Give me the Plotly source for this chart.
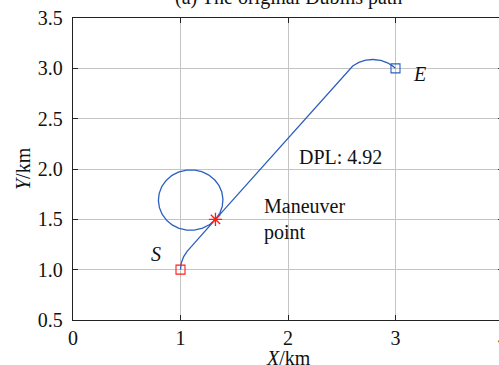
import numpy as np
import plotly.graph_objects as go

# Dubins path definition (km, degrees)
start_point = [1.0, 1.0]
start_heading = 90.0
end_point = [3.0, 3.0]
end_heading = -45.0
turn_radius = 0.3
loop_offset = 0.40          # distance along the straight leg where the loop is flown

x_ticks = [0, 1, 2, 3, 4]
y_ticks = [0.5, 1.0, 1.5, 2.0, 2.5, 3.0, 3.5]

title_text = "(a) The original Dubins path"
maneuver_text = "Maneuver<br>point"
x_title = "<i>X</i>/km"
y_title = "<i>Y</i>/km"

PATH_BLUE = "#2c5fbf"
MARK_RED = "#ff1a1a"
SERIF = "Liberation Serif"
NBSP = "\u00a0"


def arc(center, r, a0, a1, n=120):
    a = np.linspace(np.radians(a0), np.radians(a1), n)
    return center[0] + r * np.cos(a), center[1] + r * np.sin(a)


R = turn_radius
sx, sy = start_point
ex, ey = end_point

# right-turn circles at both ends (RSR)
c1 = (sx + R * np.cos(np.radians(start_heading - 90)), sy + R * np.sin(np.radians(start_heading - 90)))
c2 = (ex + R * np.cos(np.radians(end_heading - 90)), ey + R * np.sin(np.radians(end_heading - 90)))
theta = np.degrees(np.arctan2(c2[1] - c1[1], c2[0] - c1[0]))
seg_len = np.hypot(c2[0] - c1[0], c2[1] - c1[1])

# first arc: from start to the tangent point (clockwise)
ax1, ay1 = arc(c1, R, start_heading + 90, theta + 90)
t1 = (ax1[-1], ay1[-1])
d = (np.cos(np.radians(theta)), np.sin(np.radians(theta)))

# maneuver point and the full left-hand loop flown there
mx, my = t1[0] + loop_offset * d[0], t1[1] + loop_offset * d[1]
cl = (mx + R * np.cos(np.radians(theta + 90)), my + R * np.sin(np.radians(theta + 90)))
lx, ly = arc(cl, R, theta - 90, theta + 270, 240)

# rest of the straight leg and final arc
t2 = (t1[0] + seg_len * d[0], t1[1] + seg_len * d[1])
ax2, ay2 = arc(c2, R, theta + 90, end_heading + 90)

path_x = np.concatenate([ax1, [mx], lx, [t2[0]], ax2])
path_y = np.concatenate([ay1, [my], ly, [t2[1]], ay2])

arc1_len = np.radians(start_heading - theta) * R
arc2_len = np.radians(theta - end_heading) * R
dpl = arc1_len + seg_len + 2 * np.pi * R + arc2_len

fig = go.Figure()
fig.add_trace(go.Scatter(x=path_x, y=path_y, mode="lines",
                         line=dict(color=PATH_BLUE, width=1.3), hoverinfo="skip"))
fig.add_trace(go.Scatter(x=[sx], y=[sy], mode="markers",
                         marker=dict(symbol="square-open", size=9, color=MARK_RED,
                                     line=dict(color=MARK_RED, width=1.1))))
fig.add_trace(go.Scatter(x=[ex], y=[ey], mode="markers",
                         marker=dict(symbol="square-open", size=9, color=PATH_BLUE,
                                     line=dict(color=PATH_BLUE, width=1.1))))
fig.add_trace(go.Scatter(x=[mx], y=[my], mode="markers",
                         marker=dict(symbol="asterisk-open", size=11, color=MARK_RED,
                                     line=dict(color=MARK_RED, width=1.3))))

ann_font = dict(family=SERIF, size=20, color="#111111")
fig.add_annotation(x=0.772, y=1.152, text="<i>S</i>", showarrow=False, font=ann_font,
                   xanchor="center", yanchor="middle")
fig.add_annotation(x=3.223, y=2.94, text="<i>E</i>", showarrow=False, font=ann_font,
                   xanchor="center", yanchor="middle")
fig.add_annotation(x=2.08, y=2.12, text=f"DPL: {dpl:.2f}", showarrow=False, font=ann_font,
                   xanchor="left", yanchor="middle")
fig.add_annotation(x=1.76, y=1.50, text=maneuver_text, showarrow=False, font=ann_font,
                   xanchor="left", yanchor="middle", align="left")
fig.add_annotation(x=0.5, y=1, xref="paper", yref="paper", text=title_text, showarrow=False,
                   font=ann_font, xanchor="center", yanchor="bottom", yshift=7)

# axis titles
fig.add_annotation(x=0.5, y=0, xref="paper", yref="paper", text=x_title, showarrow=False,
                   font=ann_font, xanchor="center", yanchor="middle", yshift=-38)
fig.add_annotation(x=0, y=0.5, xref="paper", yref="paper", text=y_title, showarrow=False,
                   font=ann_font, xanchor="center", yanchor="middle", xshift=-50,
                   textangle=-90)

axis_common = dict(
    showgrid=True, gridcolor="#c4c4c4", gridwidth=1,
    showline=True, linecolor="#222222", linewidth=1.3, mirror="ticks",
    ticks="inside", ticklen=5, tickcolor="#222222", tickwidth=1,
    zeroline=False, automargin=False,
    tickfont=dict(family=SERIF, size=20, color="#111111"),
)

fig.update_xaxes(range=[0, 4], tickvals=x_ticks, ticktext=[str(v) for v in x_ticks],
                 **axis_common)
fig.update_yaxes(range=[0.5, 3.5], tickvals=y_ticks,
                 ticktext=[f"{v:.1f}{NBSP}" for v in y_ticks],
                 **axis_common)

fig.update_layout(
    width=540, height=365,
    margin=dict(l=73, r=37, t=18, b=45),
    paper_bgcolor="white", plot_bgcolor="white",
    showlegend=False,
)

fig.write_html("out.html",
               post_script="document.body.style.margin='0';document.body.style.overflow='hidden';")
